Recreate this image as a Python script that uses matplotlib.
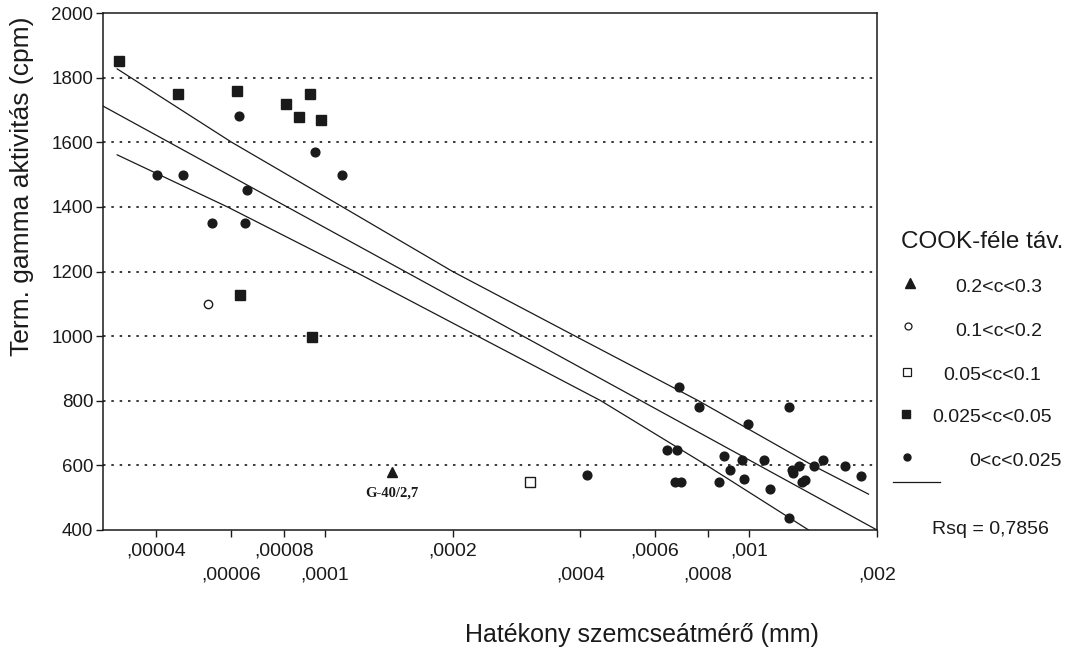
import matplotlib
matplotlib.use("Agg")
import matplotlib.pyplot as plt
from matplotlib.lines import Line2D

plt.rcParams['font.family'] = ['Liberation Sans', 'DejaVu Sans']

# Cook distance groups (x = effective grain size in mm, y = gamma activity cpm)
tri_x = [1.44e-4]
tri_y = [578]

open_circle_x = [5.3e-5]
open_circle_y = [1098]

open_square_x = [3.04e-4]
open_square_y = [548]

square_x = [3.28e-5, 4.5e-5, 6.2e-5, 8.1e-5, 8.7e-5, 9.2e-5, 9.8e-5, 6.3e-5, 9.3e-5]
square_y = [1851, 1749, 1759, 1718, 1679, 1749, 1668, 1127, 997]

circle_x = [4.02e-5, 4.63e-5, 1.1e-4, 6.27e-5, 9.5e-5, 6.55e-5, 5.41e-5, 6.5e-5,
            4.15e-4, 6.84e-4, 7.62e-4, 1.24e-3, 9.95e-4, 6.41e-4, 6.75e-4,
            6.7e-4, 6.9e-4, 8.73e-4, 9.0e-4, 9.6e-4, 8.5e-4, 9.7e-4, 1.085e-3,
            1.12e-3, 1.24e-3, 1.26e-3, 1.27e-3, 1.31e-3, 1.33e-3, 1.35e-3,
            1.42e-3, 1.49e-3, 1.68e-3, 1.83e-3]
circle_y = [1500, 1500, 1500, 1680, 1570, 1451, 1351, 1351,
            571, 842, 781, 781, 729, 649, 649,
            548, 548, 628, 586, 618, 548, 557, 618,
            527, 437, 586, 576, 599, 548, 555,
            597, 616, 597, 566]

# regression line and the two confidence bands
fit_x = [3.0e-5, 2.0e-3]
fit_y = [1712, 400]
upper_x = [3.24e-5, 6.03e-5, 1.10e-4, 2.0e-4, 3.89e-4, 7.59e-4, 1.41e-3, 1.91e-3]
upper_y = [1827, 1600, 1400, 1200, 1000, 800, 600, 511]
lower_x = [3.24e-5, 5.89e-5, 1.175e-4, 2.29e-4, 4.47e-4, 7.94e-4, 1.38e-3]
lower_y = [1561, 1400, 1200, 1000, 800, 600, 400]

# axis ticks (two staggered rows on x)
xticks_row1 = [0.00004, 0.00008, 0.0002, 0.0006, 0.001]
xlabels_row1 = [',00004', ',00008', ',0002', ',0006', ',001']
xticks_row2 = [0.00006, 0.0001, 0.0004, 0.0008, 0.002]
xlabels_row2 = [',00006', ',0001', ',0004', ',0008', ',002']
yticks = [400, 600, 800, 1000, 1200, 1400, 1600, 1800, 2000]

legend_labels = ['0.2<c<0.3', '0.1<c<0.2', '0.05<c<0.1', '0.025<c<0.05', '0<c<0.025']

W, H = 1079, 653
fig = plt.figure(figsize=(W / 100, H / 100), dpi=100)
ax = fig.add_axes([103 / W, 1 - 530 / H, 774 / W, 517 / H])

ink = '#1a1a1a'

# dotted grid
for yv in yticks[1:-1]:
    ax.axhline(yv, color=ink, linestyle=(0, (1.5, 3.5)), linewidth=1.2, zorder=1)

ax.plot(fit_x, fit_y, color=ink, linewidth=0.9, zorder=2)
ax.plot(upper_x, upper_y, color=ink, linewidth=0.9, zorder=2)
ax.plot(lower_x, lower_y, color=ink, linewidth=0.9, zorder=2)

ax.plot(circle_x, circle_y, 'o', color=ink, markersize=6.3, linestyle='none', zorder=3)
ax.plot(square_x, square_y, 's', color=ink, markersize=7.8, linestyle='none', zorder=3)
ax.plot(tri_x, tri_y, '^', color=ink, markersize=7.5, linestyle='none', zorder=3)
ax.plot(open_circle_x, open_circle_y, 'o', markerfacecolor='white', markeredgecolor=ink,
        markersize=6, markeredgewidth=1, linestyle='none', zorder=3)
ax.plot(open_square_x, open_square_y, 's', markerfacecolor='white', markeredgecolor=ink,
        markersize=7, markeredgewidth=1, linestyle='none', zorder=3)

ax.text(tri_x[0], tri_y[0] - 65, 'G-40/2,7', family='Liberation Serif', fontsize=10.5,
        fontweight='bold', color=ink, ha='center', va='center')

ax.set_xscale('log')
ax.set_xlim(3.0e-5, 2.0e-3)
ax.set_ylim(400, 2000)

ax.set_xticks(xticks_row1, xlabels_row1)
ax.set_xticks(xticks_row2, xlabels_row2, minor=True)
ax.tick_params(axis='x', which='major', length=5, width=1, pad=4, labelsize=14, colors=ink)
ax.tick_params(axis='x', which='minor', length=5, width=1, pad=21, labelsize=14, colors=ink)
ax.set_yticks(yticks)
ax.tick_params(axis='y', length=5, width=1, pad=2, labelsize=13.5, colors=ink)

for sp in ax.spines.values():
    sp.set_color(ink)
    sp.set_linewidth(1.1)

fig.text(22 / W, 1 - 186 / H, 'Term. gamma aktivitás (cpm)', rotation=90,
         ha='center', va='center', fontsize=19, color=ink)
fig.text(642 / W, 1 - 635 / H, 'Hatékony szemcseátmérő (mm)',
         ha='center', va='center', fontsize=18, color=ink)

# legend on the right, drawn by hand
fig.text(982 / W, 1 - 242 / H, 'COOK-féle táv.', ha='center', va='center', fontsize=17.5, color=ink)

marker_pos = [(910, 283), (908, 326), (907, 372), (906, 414), (907, 457)]
text_pos = [(999, 288), (999, 332), (992, 376), (992, 418), (1015, 462)]
marker_style = [
    dict(marker='^', color=ink, markersize=7),
    dict(marker='o', markerfacecolor='white', markeredgecolor=ink, markersize=5, markeredgewidth=0.9),
    dict(marker='s', markerfacecolor='white', markeredgecolor=ink, markersize=6, markeredgewidth=0.9),
    dict(marker='s', color=ink, markersize=5.5),
    dict(marker='o', color=ink, markersize=5),
]
for (mx, my), (tx, ty), lab, st in zip(marker_pos, text_pos, legend_labels, marker_style):
    fig.add_artist(Line2D([mx / W], [1 - my / H], linestyle='none', transform=fig.transFigure, **st))
    fig.text(tx / W, 1 - ty / H, lab, ha='center', va='center', fontsize=14, color=ink)

fig.add_artist(Line2D([893 / W, 940 / W], [1 - 482 / H, 1 - 482 / H], color=ink,
                      linewidth=0.9, transform=fig.transFigure))
fig.text(990 / W, 1 - 529 / H, 'Rsq = 0,7856', ha='center', va='center', fontsize=14, color=ink)

fig.savefig('out.png', dpi=100)
